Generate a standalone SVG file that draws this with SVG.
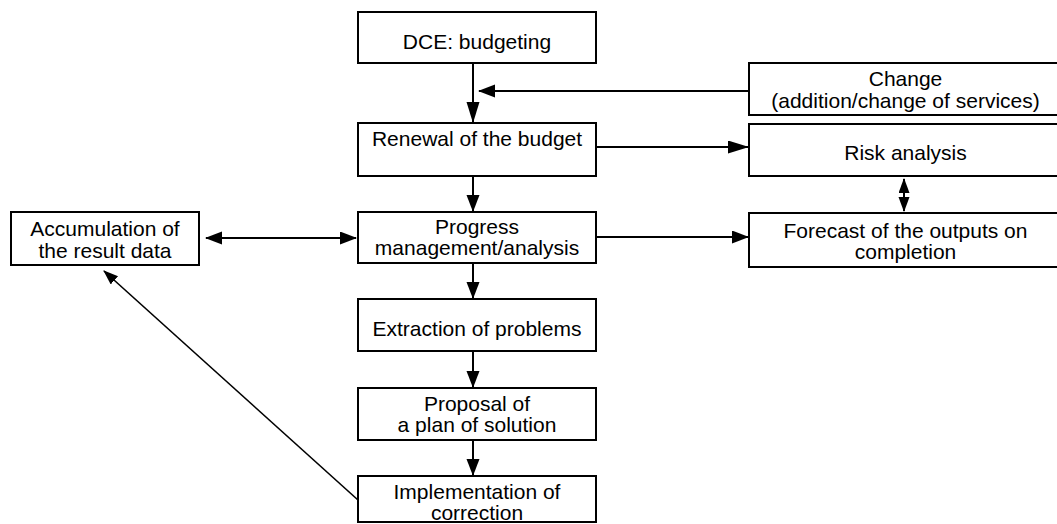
<svg xmlns="http://www.w3.org/2000/svg" width="1057" height="524" viewBox="0 0 1057 524">
<style>
.box{fill:#fff;stroke:#000;stroke-width:2}
.t{font-family:"Liberation Sans",Arial,sans-serif;font-size:21px;fill:#000;text-anchor:middle}
.ln{fill:none;stroke:#000;stroke-width:2}
.thin{fill:none;stroke:#000;stroke-width:1.6}
</style>
<defs>
<marker id="ah" markerUnits="userSpaceOnUse" markerWidth="18" markerHeight="14" viewBox="0 0 18 14" refX="16" refY="6.5" orient="auto-start-reverse"><path d="M0,0 L17,6.5 L0,13 z" fill="#000"/></marker>
<marker id="ahl" markerUnits="userSpaceOnUse" markerWidth="22" markerHeight="14" viewBox="0 0 22 14" refX="20" refY="6.5" orient="auto"><path d="M0,0 L21,6.5 L0,13 z" fill="#000"/></marker>
<marker id="ahs" markerUnits="userSpaceOnUse" markerWidth="16" markerHeight="12" viewBox="0 0 16 12" refX="14" refY="5.5" orient="auto-start-reverse"><path d="M0,0 L15,5.5 L0,11 z" fill="#000"/></marker>
</defs>
<g id="connectors">
<line class="ln" x1="473" y1="63" x2="473" y2="122" marker-end="url(#ahl)"/>
<line class="ln" x1="749" y1="91" x2="479" y2="91" marker-end="url(#ah)"/>
<line class="ln" x1="596" y1="147" x2="748" y2="147" marker-end="url(#ahl)"/>
<line class="ln" x1="473" y1="176" x2="473" y2="211" marker-end="url(#ah)"/>
<line class="ln" x1="904" y1="179" x2="904" y2="211" marker-start="url(#ahs)" marker-end="url(#ahs)"/>
<line class="ln" x1="206" y1="238" x2="356" y2="238" marker-start="url(#ah)" marker-end="url(#ah)"/>
<line class="ln" x1="596" y1="237" x2="748" y2="237" marker-end="url(#ah)"/>
<line class="ln" x1="473" y1="263" x2="473" y2="298" marker-end="url(#ah)"/>
<line class="ln" x1="473" y1="351" x2="473" y2="387" marker-end="url(#ah)"/>
<line class="ln" x1="473" y1="440" x2="473" y2="475" marker-end="url(#ah)"/>
<line class="thin" x1="358" y1="500" x2="104" y2="271" marker-end="url(#ahs)"/>
</g>
<g id="dce"><rect class="box" x="358" y="12" width="238" height="51"/><text class="t" x="477" y="48.5">DCE: budgeting</text></g>
<g id="renewal"><rect class="box" x="358" y="123" width="238" height="53"/><text class="t" x="477" y="145.5">Renewal of the budget</text></g>
<g id="progress"><rect class="box" x="358" y="212" width="238" height="51"/><text class="t" x="477" y="234">Progress</text><text class="t" x="477" y="255">management/analysis</text></g>
<g id="extraction"><rect class="box" x="358" y="299" width="238" height="52"/><text class="t" x="477" y="336">Extraction of problems</text></g>
<g id="proposal"><rect class="box" x="358" y="388" width="238" height="52"/><text class="t" x="477" y="411">Proposal of</text><text class="t" x="477" y="432">a plan of solution</text></g>
<g id="implementation"><rect class="box" x="358" y="476" width="238" height="46"/><text class="t" x="477" y="499">Implementation of</text><text class="t" x="477" y="520">correction</text></g>
<g id="accumulation"><rect class="box" x="11" y="212" width="188" height="53"/><text class="t" x="105" y="236">Accumulation of</text><text class="t" x="105" y="258">the result data</text></g>
<g id="change"><rect class="box" x="749" y="63" width="313" height="52"/><text class="t" x="905.5" y="86">Change</text><text class="t" x="905.5" y="107.5">(addition/change of services)</text></g>
<g id="risk"><rect class="box" x="749" y="124" width="313" height="52"/><text class="t" x="905.5" y="160">Risk analysis</text></g>
<g id="forecast"><rect class="box" x="749" y="213" width="313" height="54"/><text class="t" x="905.5" y="238">Forecast of the outputs on</text><text class="t" x="905.5" y="259">completion</text></g>
</svg>
